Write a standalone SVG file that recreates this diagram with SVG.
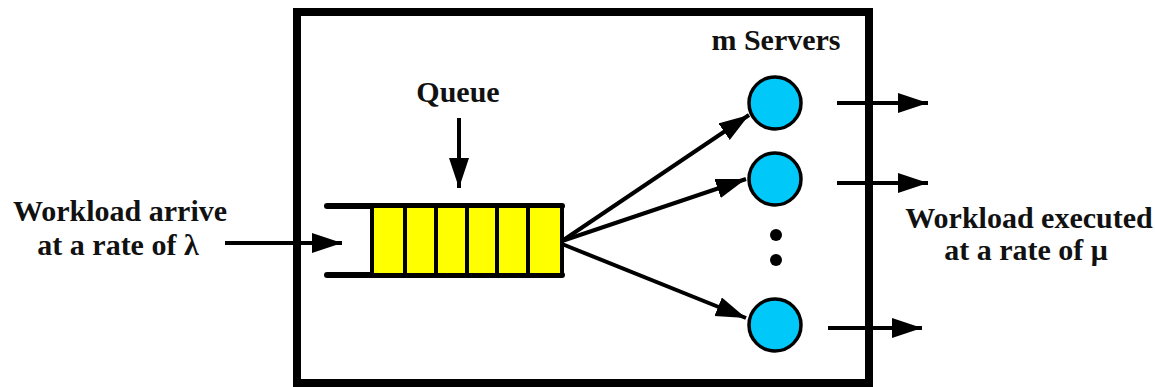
<svg xmlns="http://www.w3.org/2000/svg" width="1155" height="387" viewBox="0 0 1155 387">
  <style>
    .label { font-family: "Liberation Serif", "Times New Roman", serif; font-weight: bold; font-size: 30px; fill: #111; text-anchor: middle; }
    .wire { stroke: #000; stroke-width: 4; fill: none; }
    .server { fill: #00c8f8; stroke: #000; stroke-width: 3.5; }
    .cell { fill: #ffff00; stroke: #000; stroke-width: 4; }
  </style>
  <defs>
    <marker id="arrow" markerUnits="userSpaceOnUse" markerWidth="32" markerHeight="22" refX="30" refY="10" orient="auto">
      <path d="M0,0 L30,10 L0,20 z" fill="#000"/>
    </marker>
  </defs>
  <rect width="1155" height="387" fill="#fff"/>

  <!-- system boundary -->
  <g id="system">
    <rect x="297" y="12" width="572" height="371" fill="none" stroke="#000" stroke-width="8"/>
  </g>

  <!-- queue buffer -->
  <g id="queue">
    <line x1="327" y1="206" x2="562" y2="206" stroke="#000" stroke-width="6" stroke-linecap="round"/>
    <line x1="327" y1="275" x2="562" y2="275" stroke="#000" stroke-width="6" stroke-linecap="round"/>
    <rect class="cell" x="372" y="206" width="33" height="69"/>
    <rect class="cell" x="405" y="206" width="31" height="69"/>
    <rect class="cell" x="436" y="206" width="31" height="69"/>
    <rect class="cell" x="467" y="206" width="30" height="69"/>
    <rect class="cell" x="497" y="206" width="31" height="69"/>
    <rect class="cell" x="528" y="206" width="34" height="69"/>
    <text class="label" x="458" y="102">Queue</text>
  </g>

  <!-- servers -->
  <g id="server-1">
    <circle class="server" cx="775" cy="103" r="26"/>
  </g>
  <g id="server-2">
    <circle class="server" cx="775" cy="179" r="26"/>
  </g>
  <g id="server-m">
    <circle class="server" cx="775" cy="325" r="26"/>
  </g>
  <g id="ellipsis">
    <circle cx="776" cy="235" r="6" fill="#000"/>
    <circle cx="776" cy="260" r="6" fill="#000"/>
  </g>
  <g id="servers-label">
    <text class="label" x="776" y="50">m Servers</text>
  </g>

  <!-- external labels -->
  <g id="arrival">
    <text class="label" x="120" y="221">Workload arrive</text>
    <text class="label" x="118" y="255">at a rate of λ</text>
  </g>
  <g id="departure">
    <text class="label" x="1029" y="228">Workload executed</text>
    <text class="label" x="1026" y="260">at a rate of μ</text>
  </g>

  <!-- connectors -->
  <g id="connectors">
    <line class="wire" x1="225" y1="243" x2="342" y2="243" marker-end="url(#arrow)"/>
    <line class="wire" x1="459" y1="118" x2="459" y2="188" marker-end="url(#arrow)"/>
    <line class="wire" x1="562" y1="241" x2="749" y2="115" marker-end="url(#arrow)"/>
    <line class="wire" x1="562" y1="241" x2="746" y2="179" marker-end="url(#arrow)"/>
    <line class="wire" x1="562" y1="244" x2="746" y2="318" marker-end="url(#arrow)"/>
    <line class="wire" x1="837" y1="103" x2="928" y2="103" marker-end="url(#arrow)"/>
    <line class="wire" x1="837" y1="183" x2="928" y2="183" marker-end="url(#arrow)"/>
    <line class="wire" x1="828" y1="328" x2="922" y2="328" marker-end="url(#arrow)"/>
  </g>
</svg>
